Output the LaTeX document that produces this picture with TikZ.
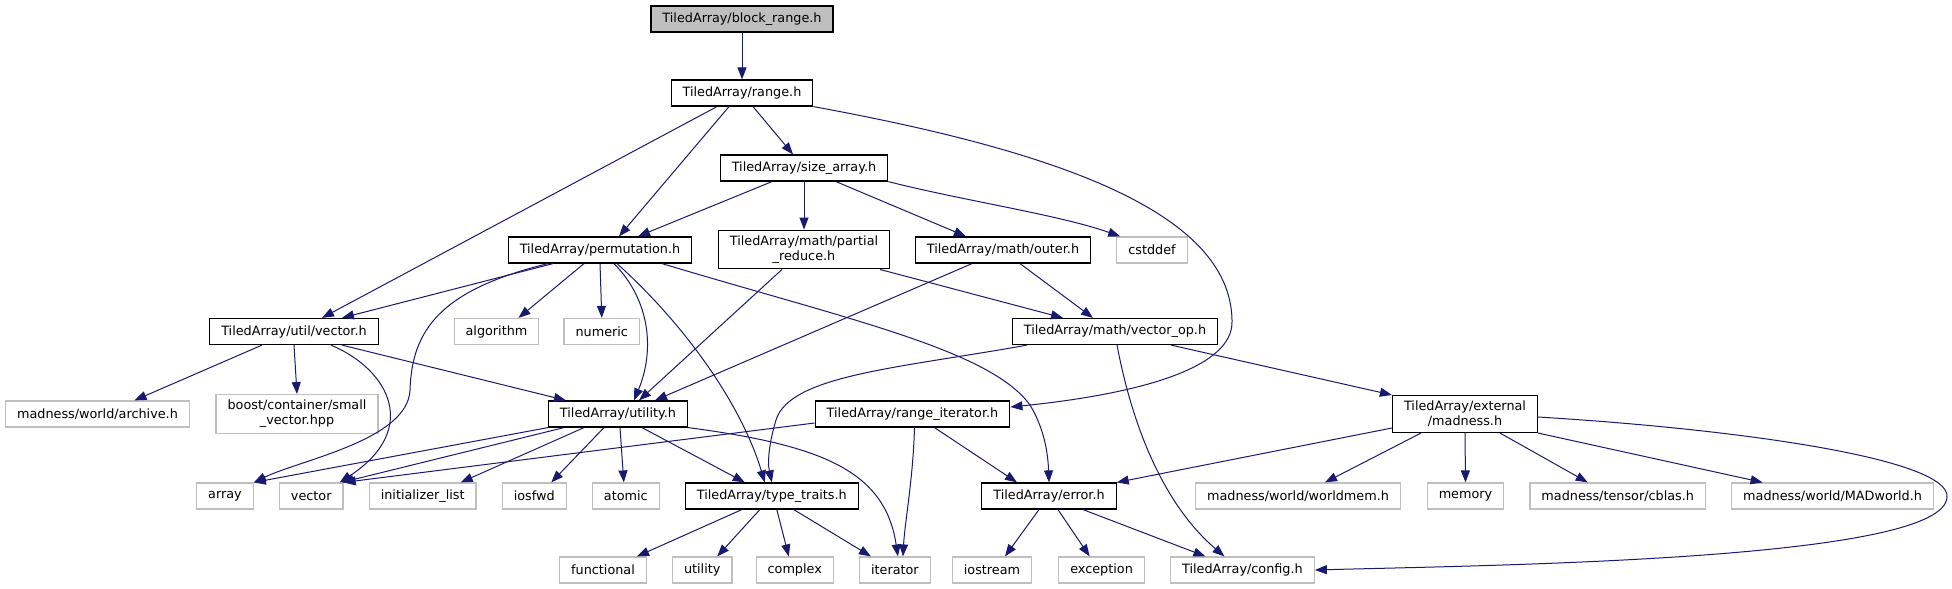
\documentclass[tikz,border=0pt]{standalone}
\usepackage{fontspec}
\setmainfont{DejaVu Sans}
\usetikzlibrary{arrows.meta, positioning}
\definecolor{edgeblue}{HTML}{191970}
\definecolor{sysgray}{HTML}{BFBFBF}

\begin{document}
\begin{tikzpicture}[
    x=1pt, y=-1pt,
    node distance=25pt,
    hdr/.style={rectangle, draw=black, line width=1.2pt, inner xsep=11.5pt, inner ysep=5.5pt, minimum height=26pt, align=center, font=\fontsize{12.8}{15}\selectfont, fill=white},
    root/.style={hdr, fill=sysgray},
    sys/.style={hdr, draw=sysgray},
    inc/.style={-{Triangle[length=12pt, width=9pt]}, line width=1pt, edgeblue},
]
\useasboundingbox (0,0) rectangle (1952,589);

% Top of the graph
\node[root] (br) at (742,19) {TiledArray/block\_range.h};
\node[hdr] (range) at (742,93) {TiledArray/range.h};
\node[hdr] (sizearr) at (804,168) {TiledArray/size\_array.h};

% Third row
\node[hdr] (perm) at (600,250) {TiledArray/permutation.h};
\node[hdr] (partred) at (804,249.5) {TiledArray/math/partial\\\_reduce.h};
\node[hdr] (outer) at (1003,250) {TiledArray/math/outer.h};
\node[sys, right=25pt of outer] (cstddef) {cstddef};

% Fourth row
\node[hdr] (uvec) at (294,331.5) {TiledArray/util/vector.h};
\node[sys] (algorithm) at (496.5,331.5) {algorithm};
\node[sys, right=24pt of algorithm] (numeric) {numeric};
\node[hdr] (vecop) at (1115,331.5) {TiledArray/math/vector\_op.h};

% Fifth row
\node[sys] (archive) at (97.5,414) {madness/world/archive.h};
\node[sys] (smallvec) at (297,414) {boost/container/small\\\_vector.hpp};
\node[hdr] (utilh) at (618,414) {TiledArray/utility.h};
\node[hdr] (rangeit) at (912.5,414) {TiledArray/range\_iterator.h};
\node[hdr] (extmad) at (1465,414) {TiledArray/external\\/madness.h};

% Sixth row
\node[sys] (array) at (225,496) {array};
\node[sys, right=25pt of array] (vector) {vector};
\node[sys, right=25pt of vector] (initlist) {initializer\_list};
\node[sys, right=25pt of initlist] (iosfwd) {iosfwd};
\node[sys, right=25pt of iosfwd] (atomic) {atomic};
\node[hdr, right=25pt of atomic] (typetr) {TiledArray/type\_traits.h};
\node[hdr] (errorh) at (1049,496) {TiledArray/error.h};
\node[sys] (worldmem) at (1298,496) {madness/world/worldmem.h};
\node[sys] (memory) at (1465.5,496) {memory};
\node[sys, right=25pt of memory] (cblas) {madness/tensor/cblas.h};
\node[sys, right=25pt of cblas] (madworld) {madness/world/MADworld.h};

% Bottom row
\node[sys] (functional) at (603,570) {functional};
\node[sys, right=25pt of functional] (utility) {utility};
\node[sys, right=23pt of utility] (complex) {complex};
\node[sys, right=25pt of complex] (iterator) {iterator};
\node[sys] (iostream) at (992,570) {iostream};
\node[sys, right=26pt of iostream] (exception) {exception};
\node[sys, right=25pt of exception] (config) {TiledArray/config.h};

% Includes of block_range.h and range.h
\draw[inc] (br.south) -- (range.north);
\draw[inc] ([xshift=-25pt]range.south) -- ([xshift=28pt]uvec.north);
\draw[inc] ([xshift=-13pt]range.south) -- ([xshift=19pt]perm.north);
\draw[inc] ([xshift=11pt]range.south) -- ([xshift=-11pt]sizearr.north);
\draw[inc] (range.south east) .. controls (1050,150) and (1230,210) .. (1232,320) .. controls (1235,370) and (1130,395) .. ([yshift=7pt]rangeit.east);

% size_array.h
\draw[inc] ([xshift=-32pt]sizearr.south) -- ([xshift=38pt]perm.north);
\draw[inc] (sizearr.south) -- (partred.north);
\draw[inc] ([xshift=32pt]sizearr.south) -- ([xshift=-37pt]outer.north);
\draw[inc] (sizearr.south east) .. controls (960,200) and (1060,215) .. ([xshift=4pt]cstddef.north west);

% permutation.h
\draw[inc] ([xshift=-47pt]perm.south) -- ([xshift=48pt]uvec.north);
\draw[inc] ([xshift=-52pt]perm.south) .. controls (440,290) and (412,330) .. (410,390) .. controls (408,440) and (300,460) .. (array.north east);
\draw[inc] ([xshift=-16pt]perm.south) -- ([xshift=22pt]algorithm.north);
\draw[inc] (perm.south) -- (numeric.north);
\draw[inc] ([xshift=14pt]perm.south) .. controls (650,300) and (655,350) .. ([xshift=16pt]utilh.north);
\draw[inc] ([xshift=17pt]perm.south) .. controls (680,320) and (740,400) .. ([xshift=-7pt]typetr.north);
\draw[inc] ([xshift=62pt]perm.south) .. controls (850,320) and (990,350) .. (1030,405) .. controls (1045,430) and (1048,455) .. (errorh.north);

% util/vector.h
\draw[inc] ([xshift=-32pt]uvec.south) -- ([xshift=37pt]archive.north);
\draw[inc] (uvec.south) -- (smallvec.north);
\draw[inc] ([xshift=37pt]uvec.south) .. controls (390,370) and (420,430) .. ([xshift=-4pt]vector.north east);
\draw[inc] ([xshift=48pt]uvec.south) -- ([xshift=-52pt]utilh.north);

% utility.h
\draw[inc] (utilh.south west) -- (array.north east);
\draw[inc] ([xshift=-54pt]utilh.south) -- ([xshift=-2pt]vector.north east);
\draw[inc] ([xshift=-34pt]utilh.south) -- ([xshift=38pt]initlist.north);
\draw[inc] ([xshift=-14pt]utilh.south) -- ([xshift=17pt]iosfwd.north);
\draw[inc] ([xshift=2pt]utilh.south) -- ([xshift=-2pt]atomic.north);
\draw[inc] ([xshift=24pt]utilh.south) -- ([xshift=-27pt]typetr.north);
\draw[inc] (utilh.south east) .. controls (820,445) and (885,470) .. ([xshift=3pt]iterator.north);

% range_iterator.h
\draw[inc] ([yshift=-9pt]rangeit.west) -- (vector.north east);
\draw[inc] ([xshift=2pt]rangeit.south) .. controls (913,480) and (905,520) .. ([xshift=8pt]iterator.north);
\draw[inc] ([xshift=22pt]rangeit.south) -- ([xshift=-32pt]errorh.north);

% math headers
\draw[inc] ([xshift=-22pt]partred.south) -- ([xshift=21pt]utilh.north);
\draw[inc] ([xshift=76pt]partred.south) -- ([xshift=-52pt]vecop.north);
\draw[inc] ([xshift=-31pt]outer.south) -- ([xshift=37pt]utilh.north);
\draw[inc] ([xshift=17pt]outer.south) -- ([xshift=-22pt]vecop.north);
\draw[inc] ([xshift=-88pt]vecop.south) .. controls (900,368) and (790,375) .. (776,420) .. controls (770,440) and (767,460) .. (typetr.north);
\draw[inc] ([xshift=2pt]vecop.south) .. controls (1135,440) and (1170,510) .. ([xshift=-18pt]config.north);
\draw[inc] ([xshift=56pt]vecop.south) -- (extmad.north west);

% type_traits.h and error.h
\draw[inc] ([xshift=-30pt]typetr.south) -- ([xshift=34pt]functional.north);
\draw[inc] ([xshift=-12pt]typetr.south) -- ([xshift=15pt]utility.north);
\draw[inc] ([xshift=5pt]typetr.south) -- ([xshift=-6pt]complex.north);
\draw[inc] ([xshift=22pt]typetr.south) -- ([xshift=-24pt]iterator.north);
\draw[inc] ([xshift=-10pt]errorh.south) -- ([xshift=13pt]iostream.north);
\draw[inc] ([xshift=9pt]errorh.south) -- ([xshift=-12pt]exception.north);
\draw[inc] ([xshift=34pt]errorh.south) -- ([xshift=-37pt]config.north);

% external/madness.h
\draw[inc] ([yshift=-14pt]extmad.west) -- (errorh.north east);
\draw[inc] ([xshift=-44pt]extmad.south) -- ([xshift=27pt]worldmem.north);
\draw[inc] (extmad.south) -- (memory.north);
\draw[inc] ([xshift=35pt]extmad.south) -- ([xshift=-30pt]cblas.north);
\draw[inc] (extmad.south east) -- ([xshift=-70pt]madworld.north);
\draw[inc] ([yshift=-3pt]extmad.east) .. controls (1750,430) and (1950,460) .. (1947,497) .. controls (1945,560) and (1500,565) .. (config.east);

\end{tikzpicture}
\end{document}
